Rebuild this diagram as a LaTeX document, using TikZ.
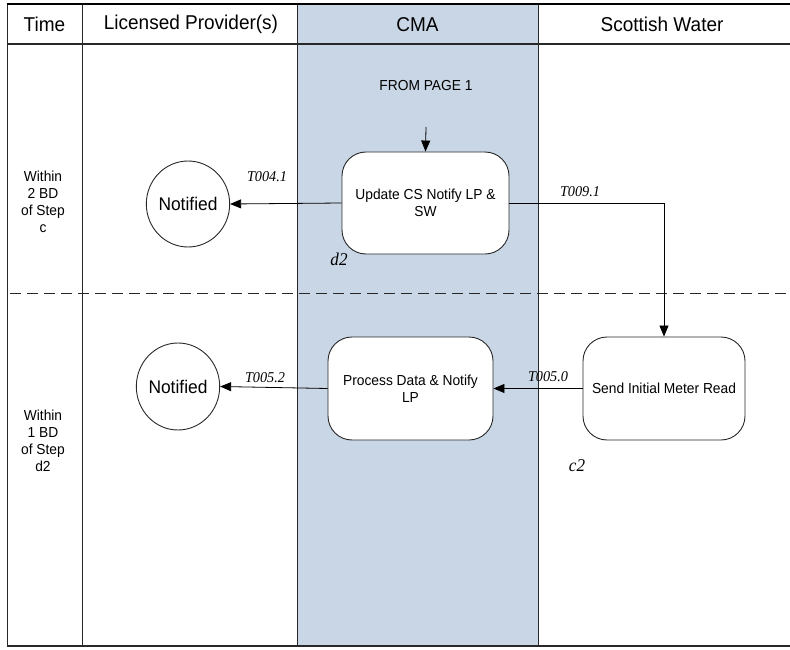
\documentclass[tikz,border=0pt]{standalone}
\usepackage{fontspec}
\setmainfont{Liberation Sans}[FakeStretch=0.95]
\newfontfamily\lserif{Liberation Serif}[FakeStretch=0.95]
\usetikzlibrary{arrows.meta,shapes.geometric}
\definecolor{cmablue}{RGB}{201,214,229}
\definecolor{frame}{RGB}{40,40,40}
\tikzset{
  proc/.style={draw=frame, line width=0.9pt, fill=white, rectangle, rounded corners=24pt, align=center, inner sep=0pt, font=\fontsize{14.5}{16.7}\selectfont},
  endst/.style={draw=frame, line width=0.9pt, fill=white, ellipse, inner sep=0pt, font=\fontsize{18.3}{20}\selectfont},
  conn/.style={draw=black, line width=0.8pt, -{Triangle[length=11pt,width=9pt]}},
  tlabel/.style={font=\lserif\itshape\fontsize{15}{17}\selectfont, inner sep=0pt},
  steplabel/.style={font=\lserif\itshape\fontsize{18}{20}\selectfont, inner sep=0pt},
  hdr/.style={font=\fontsize{20}{22}\selectfont, inner sep=0pt},
  timetxt/.style={font=\fontsize{14.5}{17}\selectfont, align=center, inner sep=0pt},
  grid/.style={draw=frame, line width=0.9pt},
  dashline/.style={draw=frame, line width=1pt, dash pattern=on 11pt off 6pt},
}
\begin{document}
\begin{tikzpicture}[x=1pt,y=-1pt]
\useasboundingbox (0,0) rectangle (790,650);
% CMA lane fill
\fill[cmablue] (297,4) rectangle (538,646);
% grid
\draw[grid] (82,4) -- (82,645);
\draw[grid] (297,4) -- (297,646);
\draw[grid] (538,4) -- (538,646);
\draw[grid] (7,4) -- (7,646);
\draw[grid, line width=1.2pt] (7,44) -- (790,44);
\draw[draw=black, line width=2pt] (7,4) -- (790,4);
\draw[draw=frame, line width=2pt] (7,646) -- (790,646);
\draw[dashline] (10,293) -- (790,293);
% headers
\node[hdr] (hTime) at (44.5,24.5) {Time};
\node[hdr] (hLP) at (191,24.5) {Licensed Provider(s)};
\node[hdr] (hCMA) at (417.5,24.5) {CMA};
\node[hdr] (hSW) at (662,24.5) {Scottish Water};
% time texts
\node[timetxt] (t1) at (43,202) {Within\\2 BD\\of Step\\c};
\node[timetxt] (t2) at (43,441) {Within\\1 BD\\of Step\\d2};
% nodes
\node[font=\fontsize{14.5}{16}\selectfont, inner sep=0pt] (from) at (426,86) {FROM PAGE 1};
\coordinate (fromarr) at (426,127);
\node[proc, minimum width=167pt, minimum height=102pt] (upd) at (425.5,203) {Update CS Notify LP \&\\SW};
\node[endst, minimum width=80pt, minimum height=86pt] (n1) at (188,204) {Notified};
\node[proc, minimum width=162pt, minimum height=103pt] (sw) at (664,388.5) {Send Initial Meter Read};
\node[proc, minimum width=165pt, minimum height=103pt] (pd) at (410.5,388.5) {Process Data \& Notify\\LP};
\node[endst, minimum width=80pt, minimum height=87pt] (n2) at (178,386.5) {Notified};
% connectors
\draw[conn] (fromarr) -- (upd.north);
\draw[conn] (upd.west) -- (n1.east);
\draw[conn] (upd.east) -- (upd.east -| sw.north) -- (sw.north);
\draw[conn] (sw.west) -- (pd.east);
\draw[conn] (pd.west) -- (n2.east);
% labels
\node[tlabel] (l1) at (267,177) {T004.1};
\node[tlabel] (l2) at (580,192) {T009.1};
\node[tlabel] (l3) at (265,378) {T005.2};
\node[tlabel] (l4) at (548,377) {T005.0};
\node[steplabel] (s1) at (339,259) {d2};
\node[steplabel] (s2) at (577,466) {c2};
\end{tikzpicture}
\end{document}
